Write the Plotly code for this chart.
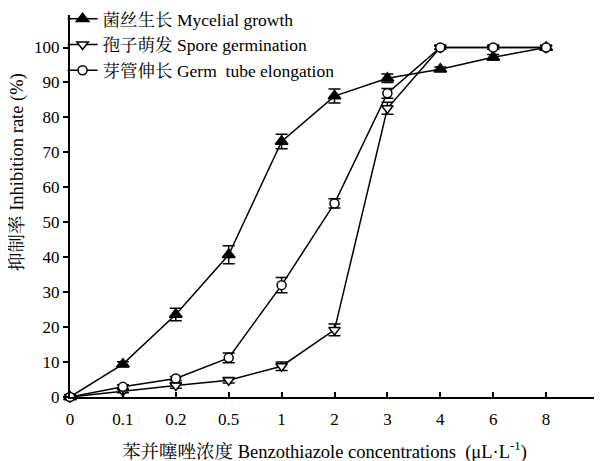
import plotly.graph_objects as go

concentrations = ["0", "0.1", "0.2", "0.5", "1", "2", "3", "4", "6", "8"]

mycelial = [0, 9.4, 23.6, 40.7, 73.1, 86.1, 91.2, 93.8, 97.2, 100]
mycelial_err = [0, 0.7, 1.8, 2.6, 2.1, 2.0, 1.2, 0.6, 0.8, 0.5]

spore = [0, 1.7, 3.3, 4.8, 8.8, 19.2, 82.6, 100, 100, 100]
spore_err = [0, 0.5, 0.8, 0.8, 1.2, 1.7, 1.7, 0.5, 0.5, 0.5]

germ = [0, 2.9, 5.3, 11.2, 32.0, 55.4, 86.9, 100, 100, 100]
germ_err = [0, 0.6, 0.6, 1.4, 2.2, 1.3, 1.4, 0.5, 0.5, 0.5]

names = ["菌丝生长 Mycelial growth", "孢子萌发 Spore germination", "芽管伸长 Germ  tube elongation"]
x_title = "苯并噻唑浓度 Benzothiazole concentrations  (μL·L<sup>-1</sup>)"
y_title = "抑制率 Inhibition rate (%)"

xpos = list(range(len(concentrations)))
FONT = "Liberation Serif, Times New Roman, Noto Serif CJK SC, Noto Sans CJK SC, serif"

# The page body has an 8px default margin; the figure is sized to fit the window.
PAGE_OFF = 8

fig = go.Figure()

series = [
    (mycelial, mycelial_err, names[0], dict(symbol="triangle-up", size=11, color="black", line=dict(color="black", width=1.5))),
    (spore, spore_err, names[1], dict(symbol="triangle-down", size=10, color="white", line=dict(color="black", width=1.5))),
    (germ, germ_err, names[2], dict(symbol="circle", size=9, color="white", line=dict(color="black", width=1.5))),
]

for vals, errs, name, marker in series:
    fig.add_trace(go.Scatter(
        x=xpos, y=vals, name=name, mode="lines+markers",
        line=dict(color="black", width=1.5),
        marker=marker,
        error_y=dict(type="data", array=errs, visible=True, color="black", thickness=1.5, width=6),
        cliponaxis=False,
    ))

fig.update_layout(
    width=602 - PAGE_OFF, height=461 - PAGE_OFF,
    margin=dict(l=70 - PAGE_OFF, r=3, t=15 - PAGE_OFF, b=64, autoexpand=False),
    paper_bgcolor="white", plot_bgcolor="white",
    font=dict(family=FONT, color="black", size=17),
    showlegend=True,
    legend=dict(
        x=-0.014, y=1.037, xanchor="left", yanchor="top",
        bgcolor="rgba(0,0,0,0)", font=dict(size=17.5, family=FONT),
        itemwidth=30, tracegroupgap=0,
    ),
    xaxis=dict(
        range=[0, 10], tickmode="array", tickvals=xpos, ticktext=concentrations,
        showline=True, linecolor="black", linewidth=2,
        ticks="inside", ticklen=5, tickwidth=2, tickcolor="black",
        showgrid=False, zeroline=False, automargin=False,
        tickfont=dict(size=17, family=FONT), ticklabelstandoff=6,
    ),
    yaxis=dict(
        range=[0, 109.3], tickmode="array", tickvals=list(range(0, 101, 10)),
        showline=True, linecolor="black", linewidth=2,
        ticks="outside", ticklen=5, tickwidth=2, tickcolor="black",
        showgrid=False, zeroline=False, automargin=False,
        tickfont=dict(size=17, family=FONT),
    ),
    annotations=[
        dict(text=x_title, xref="paper", yref="paper",
             x=(324 - 70) / 529, y=-(450 - 397) / 382,
             xanchor="center", yanchor="middle", showarrow=False,
             font=dict(size=18.5, family=FONT)),
        dict(text=y_title, xref="paper", yref="paper",
             x=-(70 - 18) / 529, y=(397 - 172) / 382,
             xanchor="center", yanchor="middle", showarrow=False, textangle=-90,
             font=dict(size=18.5, family=FONT)),
    ],
)

fig.write_html("out.html")
